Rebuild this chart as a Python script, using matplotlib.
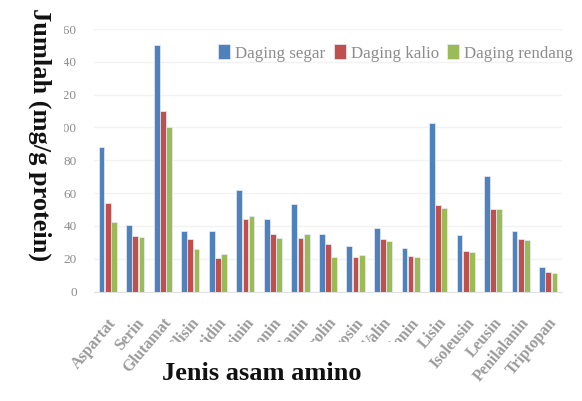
import matplotlib
matplotlib.use("Agg")
import matplotlib.pyplot as plt
import numpy as np
from matplotlib.patches import Rectangle
from matplotlib.transforms import Bbox, TransformedBbox

# Amino acid content (mg/g protein) of fresh, kalio and rendang beef
amino_acids = ["Aspartat", "Serin", "Glutamat", "Glisin", "Histidin", "Arginin",
               "Treonin", "Alanin", "Prolin", "Tirosin", "Valin", "Metionin",
               "Lisin", "Isoleusin", "Leusin", "Penilalanin", "Triptopan"]
daging_segar = [88, 40.4, 150, 36.8, 36.8, 62.1, 44.2, 53.5, 35.2, 27.9, 39, 26.3,
                102.8, 34.7, 70.1, 36.6, 14.7]
daging_kalio = [54.2, 34.1, 110, 32.3, 20.3, 44.1, 35.2, 32.5, 28.9, 20.8, 31.9, 21.6,
                52.9, 24.6, 50.1, 32.1, 12.1]
daging_rendang = [42.2, 33.1, 100.5, 25.8, 22.9, 45.9, 32.5, 35.2, 20.8, 22.4, 30.7, 20.8,
                  51.1, 23.8, 50.1, 31.1, 11.1]
series_names = ["Daging segar", "Daging kalio", "Daging rendang"]
y_ticks = [0, 20, 40, 60, 80, 100, 120, 140, 160]

colors = ["#4f81bd", "#c0504d", "#9bbb59"]
serif = ["Liberation Serif", "DejaVu Serif"]
gray = "#8c8c8c"

W, H = 582, 401
fig = plt.figure(figsize=(W / 100, H / 100), dpi=100)
ax = fig.add_axes([94 / W, 1 - 291.5 / H, (562 - 94) / W, (291.5 - 29) / H])

x = np.arange(len(amino_acids))
bw = 0.21
step = 0.225
for i, (vals, name) in enumerate(zip([daging_segar, daging_kalio, daging_rendang], series_names)):
    ax.bar(x + (i - 1) * step, vals, width=bw, color=colors[i], label=name,
           edgecolor="#e8eef7", linewidth=0.5, zorder=3)

ax.set_xlim(-0.5, len(amino_acids) - 0.5)
ax.set_ylim(0, 160)
ax.set_yticks(y_ticks)
ax.set_yticklabels([str(v) for v in y_ticks], family=serif, fontsize=9.5, color=gray)
ax.grid(axis="y", color="#f2f2f2", linewidth=1, zorder=0)
ax.set_axisbelow(True)
for s in ["top", "right", "left"]:
    ax.spines[s].set_visible(False)
ax.spines["bottom"].set_color("#e0e0e0")
ax.tick_params(axis="both", length=0)
ax.tick_params(axis="y", pad=12.5)
ax.tick_params(axis="x", pad=17)
ax.set_xticks(x)
ax.set_xticklabels(amino_acids, rotation=50, ha="right", rotation_mode="anchor",
                   family=serif, fontsize=11.5, fontweight="bold", color="#9a9a9a")

# numbers at the far left fall partly outside the visible strip
clip = TransformedBbox(Bbox.from_extents(64 / W, 0, 1, 1), fig.transFigure)
for t in ax.yaxis.get_major_ticks():
    t.label1.set_clip_box(clip)
    t.label1.set_clip_on(True)

leg = ax.legend(loc="center right", bbox_to_anchor=(573 / W, 1 - 53 / H),
                bbox_transform=fig.transFigure, ncol=3, frameon=False,
                prop={"family": serif, "size": 12.2}, handlelength=0.7, handleheight=1.0,
                handletextpad=0.3, columnspacing=0.5, borderaxespad=0, borderpad=0)
for txt in leg.get_texts():
    txt.set_color(gray)

# title band under the category labels
fig.add_artist(Rectangle((157 / W, 0), (405 - 157) / W, 1 - 342 / H,
                         transform=fig.transFigure, facecolor="white",
                         edgecolor="none", zorder=5))
fig.text(262 / W, 1 - 374 / H, "Jenis asam amino", ha="center", va="center",
         family=serif, fontsize=19, fontweight="bold", color="#111111", zorder=6)
fig.text(40 / W, 1 - 135 / H, "Jumlah (mg/g protein)", ha="center", va="center",
         rotation=-90, family=serif, fontsize=19, fontweight="bold", color="#111111")

fig.savefig("out.png", dpi=100, facecolor="white")
